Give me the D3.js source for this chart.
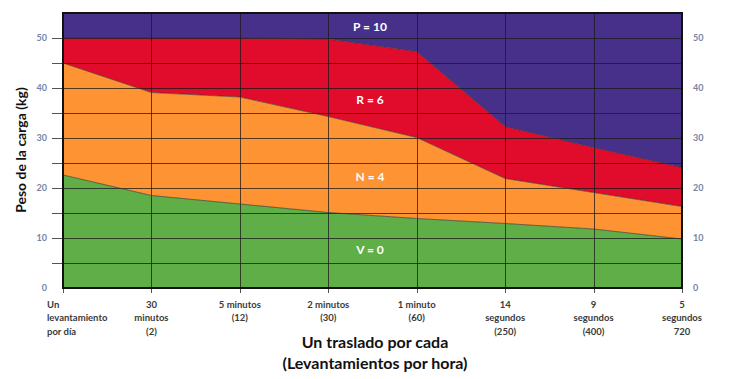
<!DOCTYPE html>
<html><head><meta charset="utf-8">
<script src="https://cdn.jsdelivr.net/npm/d3@7"></script>
<style>body{margin:0;background:#fff;}svg{display:block;}</style>
</head><body>
<svg id="c" width="750" height="379"></svg>
<script>
const categories = [
  ["Un","levantamiento","por día"],
  ["30","minutos","(2)"],
  ["5 minutos","(12)"],
  ["2 minutos","(30)"],
  ["1 minuto","(60)"],
  ["14","segundos","(250)"],
  ["9","segundos","(400)"],
  ["5","segundos","720"]
];
const vTop = [22.6, 18.5, 16.8, 15.1, 13.9, 12.9, 11.8, 9.8];
const nTop = [45.0, 39.1, 38.2, 34.3, 30.1, 21.9, 19.1, 16.3];
const rTop = [50.0, 50.0, 50.0, 49.8, 47.3, 32.3, 28.1, 24.1];
const pTop = [55, 55, 55, 55, 55, 55, 55, 55];
const yTicks = [0, 10, 20, 30, 40, 50];
const yGrid = [5, 10, 15, 20, 25, 30, 35, 40, 45, 50];
const zoneLabels = [
  {text:"P = 10", v:52.3},
  {text:"R = 6", v:37.6},
  {text:"N = 4", v:22.3},
  {text:"V = 0", v:7.6}
];

const svg = d3.select("#c");
const L = 63, R = 682, T = 13, B = 288;
const x = d3.scalePoint().domain(d3.range(categories.length)).range([L, R]);
const y = d3.scaleLinear().domain([0, 55]).range([B, T]);
const idx = d3.range(categories.length);

const layers = [
  {lo: null, hi: pTop, loArr: rTop, fill: "#46308a"},
  {loArr: nTop, hi: rTop, fill: "#e10b2b"},
  {loArr: vTop, hi: nTop, fill: "#fd9332"},
  {loArr: null, hi: vTop, fill: "#60ae47"}
];
const area = (lo, hi) => d3.area()
  .x(i => x(i))
  .y0(i => y(lo ? lo[i] : 0))
  .y1(i => y(hi[i]));
layers.forEach(l => {
  svg.append("path").datum(idx).attr("d", area(l.loArr, l.hi)(idx)).attr("fill", l.fill);
});

// gridlines
const g = svg.append("g").attr("stroke", "#1a1a1a").attr("stroke-width", 1).attr("stroke-opacity", 0.75);
yGrid.forEach(v => {
  g.append("line").attr("x1", 52).attr("x2", R).attr("y1", Math.round(y(v)) + 0.5).attr("y2", Math.round(y(v)) + 0.5);
});
idx.forEach(i => {
  g.append("line").attr("x1", Math.round(x(i)) + 0.5).attr("x2", Math.round(x(i)) + 0.5).attr("y1", T).attr("y2", B + 5);
});

// boundary lines
const line = arr => d3.line().x(i => x(i)).y(i => y(arr[i]));
[vTop, nTop, rTop].forEach(a => {
  svg.append("path").attr("d", line(a)(idx)).attr("fill", "none").attr("stroke", "#3a2a2a").attr("stroke-width", 0.8).attr("stroke-opacity", 0.8);
});

// border
svg.append("rect").attr("x", L).attr("y", T).attr("width", R - L).attr("height", B - T)
  .attr("fill", "none").attr("stroke", "#111").attr("stroke-width", 2);

// y tick labels
const tf = "Lato, 'Open Sans', sans-serif";
yTicks.forEach(v => {
  svg.append("text").attr("x", 47).attr("y", y(v)).attr("dy", "0.35em").attr("text-anchor", "end")
    .attr("font-family", tf).attr("font-weight", "bold").attr("font-size", 9).attr("fill", "#7585a3").text(v);
  svg.append("text").attr("x", 693).attr("y", y(v)).attr("dy", "0.35em").attr("text-anchor", "start")
    .attr("font-family", tf).attr("font-weight", "bold").attr("font-size", 9).attr("fill", "#7585a3").text(v);
});

// category labels
categories.forEach((lines, i) => {
  const first = i === 0;
  const t = svg.append("text").attr("font-family", tf).attr("font-weight", "bold").attr("font-size", 9.5)
    .attr("fill", "#3a3a3a").attr("text-anchor", first ? "start" : "middle");
  lines.forEach((s, k) => {
    t.append("tspan").attr("x", first ? 47 : x(i)).attr("y", 308 + k * 13.3).text(s);
  });
});

// zone labels
zoneLabels.forEach(z => {
  svg.append("text").attr("x", 370).attr("y", y(z.v)).attr("dy", "0.35em").attr("text-anchor", "middle")
    .attr("font-family", tf).attr("font-weight", "bold").attr("font-size", 12).attr("fill", "#fff").text(z.text);
});

// axis titles
svg.append("text").attr("transform", "translate(26,150) rotate(-90)").attr("text-anchor", "middle")
  .attr("font-family", tf).attr("font-weight", "bold").attr("font-size", 14).attr("fill", "#111").text("Peso de la carga (kg)");
svg.append("text").attr("x", 375).attr("y", 348).attr("text-anchor", "middle")
  .attr("font-family", tf).attr("font-weight", "bold").attr("font-size", 16).attr("fill", "#111").text("Un traslado por cada");
svg.append("text").attr("x", 375).attr("y", 369).attr("text-anchor", "middle")
  .attr("font-family", tf).attr("font-weight", "bold").attr("font-size", 16).attr("fill", "#111").text("(Levantamientos por hora)");
</script>
</body></html>
